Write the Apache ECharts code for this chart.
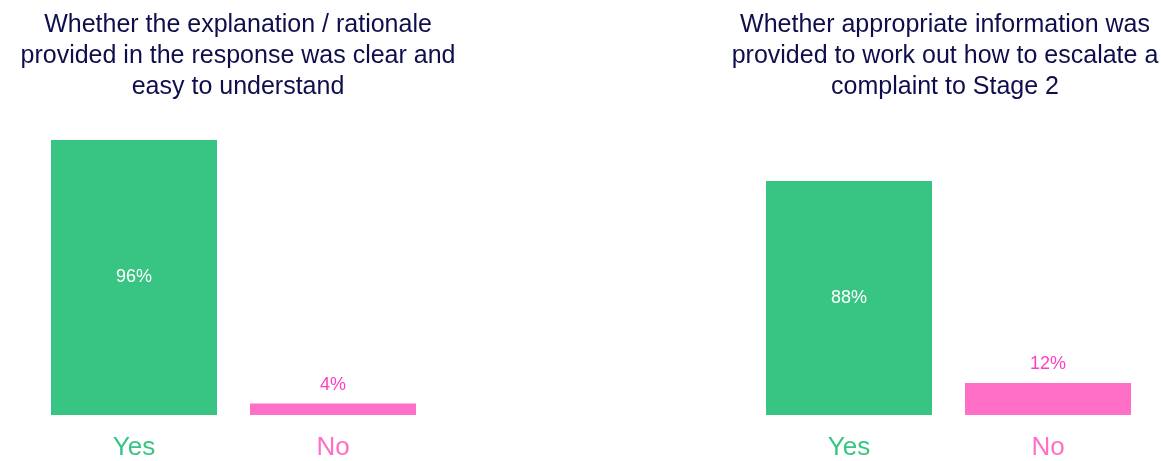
<!DOCTYPE html>
<html>
<head>
<meta charset="utf-8">
<script src="https://cdn.jsdelivr.net/npm/echarts@6/dist/echarts.min.js"></script>
<style>html,body{margin:0;padding:0;background:#fff;}#c{width:1161px;height:461px;}</style>
</head>
<body>
<div id="c"></div>
<script>
const categories = ['Yes', 'No'];
const leftTitle = 'Whether the explanation / rationale\nprovided in the response was clear and\neasy to understand';
const rightTitle = 'Whether appropriate information was\nprovided to work out how to escalate a\ncomplaint to Stage 2';
const leftValues = [96, 4];
const rightValues = [88, 12];

const GREEN = '#38C584';
const PINK = '#FF6EC7';
const NAVY = '#0E0E4C';
const FONT = '"Liberation Sans", Arial, sans-serif';

function seriesData(vals) {
  return vals.map((v, i) => ({
    value: v,
    itemStyle: { color: i === 0 ? GREEN : PINK },
    label: i === 0
      ? { position: 'inside', color: '#ffffff' }
      : { position: 'top', color: '#FF3FC3', distance: 10 }
  }));
}

const chart = echarts.init(document.getElementById('c'));
const xAxisCommon = {
  type: 'category',
  data: categories,
  axisLine: { show: false },
  axisTick: { show: false },
  axisLabel: {
    fontFamily: FONT,
    fontSize: 26,
    margin: 20,
    color: (v) => v === 'Yes' ? GREEN : PINK
  }
};
const yAxisCommon = { type: 'value', min: 0, max: 100, show: false };

chart.setOption({
  animation: false,
  backgroundColor: '#ffffff',
  title: [
    { text: leftTitle, left: 233, top: 5, textAlign: 'center',
      textStyle: { fontFamily: FONT, fontSize: 25, lineHeight: 31, fontWeight: 'normal', color: NAVY } },
    { text: rightTitle, left: 940, top: 5, textAlign: 'center',
      textStyle: { fontFamily: FONT, fontSize: 25, lineHeight: 31, fontWeight: 'normal', color: NAVY } }
  ],
  grid: [
    { left: 34.5, width: 398, top: 128.5, bottom: 45 },
    { left: 749.5, width: 398, top: 149, bottom: 45 }
  ],
  xAxis: [
    Object.assign({ gridIndex: 0 }, xAxisCommon),
    Object.assign({ gridIndex: 1 }, xAxisCommon)
  ],
  yAxis: [
    Object.assign({ gridIndex: 0 }, yAxisCommon),
    Object.assign({ gridIndex: 1 }, yAxisCommon)
  ],
  series: [
    { type: 'bar', xAxisIndex: 0, yAxisIndex: 0, barWidth: 166,
      data: seriesData(leftValues),
      label: { show: true, formatter: '{c}%', fontFamily: FONT, fontSize: 18 } },
    { type: 'bar', xAxisIndex: 1, yAxisIndex: 1, barWidth: 166,
      data: seriesData(rightValues),
      label: { show: true, formatter: '{c}%', fontFamily: FONT, fontSize: 18 } }
  ]
});
</script>
</body>
</html>
